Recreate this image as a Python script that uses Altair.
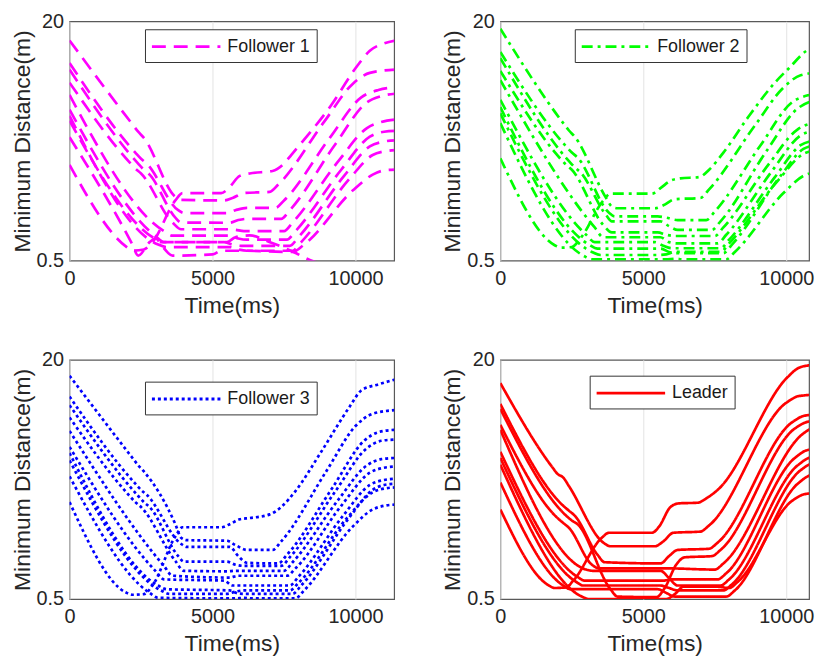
import altair as alt
import pandas as pd

PANEL_NAMES = ["Follower 1", "Follower 2", "Follower 3", "Leader"]
PANEL_COLORS = ["#ff00ff", "#00ff00", "#0000ff", "#ff0000"]
PANEL_DASHES = [[14, 8], [11, 5, 3, 5], [3, 3], [1, 0]]
X_TICKS = [0, 5000, 10000]
Y_TICKS = [0.5, 20]
X_LABEL = "Time(ms)"
Y_LABEL = "Minimum Distance(m)"

# (time in ms, minimum distance in m)
FOLLOWER1 = [
    [(0, 8.3), (2000, 1.6), (2200, 1.3), (2600, 1.4), (2900, 2.0), (3700, 5.4), (3950, 6.0), (5300, 6.0), (5600, 6.5), (5950, 7.4), (6300, 7.6), (7100, 7.8), (7500, 8.4), (7750, 9.1), (9130, 13.1), (10070, 16.4), (10500, 17.6), (11000, 18.2), (11400, 18.44)],
    [(0, 18.44), (2200, 11.6), (2400, 11.0), (2600, 10.5), (3700, 5.7), (3900, 5.45), (5400, 5.4), (5700, 5.6), (6100, 6.0), (7000, 6.1), (7300, 6.7), (8900, 11.8), (9900, 14.9), (10500, 15.8), (11400, 16.07)],
    [(0, 16.6), (2300, 9.3), (2500, 8.8), (2700, 8.4), (3800, 4.6), (4000, 4.37), (5500, 4.37), (5800, 4.6), (6200, 4.8), (7200, 4.8), (7500, 5.4), (9100, 10.5), (10200, 13.8), (10800, 14.4), (11400, 14.63)],
    [(0, 16.07), (2400, 8.4), (2600, 7.9), (2800, 7.5), (3700, 4.0), (3900, 3.6), (5600, 3.58), (5900, 3.8), (6200, 3.9), (7400, 3.9), (7700, 4.6), (9300, 10.0), (10400, 13.4), (10900, 13.9), (11400, 14.1)],
    [(0, 15.0), (2100, 8.5), (2300, 8.0), (2500, 7.6), (3600, 3.6), (3900, 3.05), (5500, 3.05), (5800, 3.0), (6100, 2.9), (7500, 2.9), (7800, 3.6), (9400, 8.6), (10400, 11.3), (10900, 11.8), (11400, 12.0)],
    [(0, 14.0), (3300, 2.9), (3600, 2.53), (5600, 2.53), (5900, 2.3), (6200, 2.2), (7600, 2.2), (7900, 2.9), (9500, 7.9), (10500, 10.6), (11000, 11.0), (11400, 11.07)],
    [(0, 12.8), (3000, 2.5), (3300, 2.0), (5400, 2.0), (5700, 1.8), (6000, 1.7), (7700, 1.7), (8000, 2.4), (9600, 7.4), (10500, 9.8), (11000, 10.2), (11400, 10.3)],
    [(0, 12.3), (3100, 1.8), (3400, 1.6), (5600, 1.6), (5900, 1.4), (6200, 1.3), (7800, 1.3), (8100, 2.0), (9800, 7.2), (10600, 9.1), (11000, 9.4), (11400, 9.5)],
    [(0, 10.55), (2200, 1.8), (2400, 0.9), (2800, 2.0), (3000, 2.3), (3300, 1.5), (3600, 0.9), (5000, 1.0), (5300, 1.3), (6000, 1.3), (7800, 1.2), (8200, 1.8), (9900, 6.2), (10600, 7.5), (11000, 7.85), (11400, 7.92)],
    [(0, 11.9), (2900, 2.4), (3200, 2.0), (5500, 2.0), (5800, 2.4), (6300, 2.55), (7000, 2.0), (7600, 1.45), (8000, 1.0), (8400, 0.55), (8700, 0.3)],
]

FOLLOWER2 = [
    [(0, 8.84), (1900, 1.75), (2100, 1.55), (2500, 1.6), (2800, 2.3), (3600, 5.4), (3850, 5.95), (5300, 5.95), (5600, 6.4), (5950, 7.0), (6300, 7.2), (6950, 7.3), (7300, 7.9), (7800, 9.3), (8700, 12.3), (9600, 15.0), (10100, 16.2), (10700, 17.6), (11400, 18.3)],
    [(0, 19.4), (2200, 11.7), (2400, 11.1), (2600, 10.6), (3700, 5.6), (3900, 4.9), (4100, 4.76), (5400, 4.76), (5700, 5.0), (6100, 5.5), (7000, 5.6), (7300, 6.3), (8900, 11.5), (9900, 14.6), (10500, 15.6), (11400, 15.9)],
    [(0, 17.5), (2300, 9.8), (2500, 9.3), (2700, 8.9), (3800, 4.4), (4000, 4.1), (5500, 4.1), (5800, 4.0), (6200, 3.8), (7200, 3.8), (7500, 4.5), (9100, 9.9), (10200, 13.4), (10800, 14.0), (11400, 14.2)],
    [(0, 17.0), (2400, 8.6), (2600, 8.1), (2800, 7.7), (3700, 4.2), (3900, 3.7), (5600, 3.7), (5900, 3.3), (6200, 3.0), (7400, 3.0), (7700, 3.7), (9300, 9.4), (10400, 12.9), (10900, 13.5), (11400, 13.7)],
    [(0, 15.96), (2100, 8.8), (2300, 8.3), (2500, 7.9), (3600, 3.4), (3900, 2.8), (5500, 2.79), (5800, 2.6), (6100, 2.5), (7500, 2.5), (7800, 3.2), (9400, 8.4), (10400, 11.2), (10900, 11.7), (11400, 11.86)],
    [(0, 15.2), (3300, 3.2), (3600, 2.4), (5600, 2.4), (5900, 2.0), (6200, 1.9), (7600, 1.9), (7900, 2.6), (9500, 7.8), (10500, 10.7), (11000, 11.1), (11400, 11.2)],
    [(0, 13.6), (3000, 2.6), (3300, 2.0), (5400, 2.0), (5700, 1.7), (6000, 1.5), (7700, 1.5), (8000, 2.2), (9600, 7.3), (10500, 9.9), (11000, 10.3), (11400, 10.4)],
    [(0, 13.0), (3100, 1.8), (3400, 1.47), (5600, 1.47), (5900, 1.2), (6200, 1.1), (7800, 1.1), (8100, 1.8), (9800, 7.4), (10600, 9.6), (11000, 9.9), (11400, 10.0)],
    [(0, 12.5), (3200, 1.2), (3500, 0.95), (5500, 0.95), (5800, 1.0), (6100, 1.2), (7700, 1.2), (8000, 1.9), (9700, 7.0), (10600, 9.2), (11000, 9.5), (11400, 9.6)],
    [(0, 11.7), (2900, 0.9), (3200, 0.6), (5800, 0.6), (6100, 0.65), (6400, 0.6), (7900, 0.6), (8200, 1.2), (9900, 6.0), (10600, 7.4), (11000, 7.7), (11400, 7.8)],
]

FOLLOWER3 = [
    [(0, 8.4), (2000, 1.0), (2200, 0.85), (2600, 0.9), (2900, 1.6), (3700, 5.6), (3950, 6.35), (5300, 6.35), (5600, 6.6), (5950, 7.0), (6300, 7.1), (7000, 7.4), (7400, 8.0), (7900, 9.3), (8800, 12.5), (9800, 16.2), (10200, 17.5), (10800, 18.0), (11400, 18.4)],
    [(0, 18.7), (2200, 12.0), (2400, 11.4), (2600, 10.9), (3700, 6.6), (3900, 5.5), (4100, 5.3), (5500, 5.25), (5800, 4.9), (6200, 4.5), (7100, 4.5), (7400, 5.2), (9000, 11.0), (10000, 14.6), (10600, 15.6), (11400, 15.9)],
    [(0, 17.0), (2300, 9.9), (2500, 9.4), (2700, 9.0), (3900, 5.0), (4100, 4.75), (5600, 4.75), (5900, 4.0), (6200, 3.45), (7300, 3.4), (7600, 4.1), (9200, 9.6), (10300, 13.4), (10800, 14.1), (11400, 14.3)],
    [(0, 16.3), (2400, 8.9), (2600, 8.4), (2800, 8.0), (3800, 4.0), (4000, 3.55), (5500, 3.55), (5800, 3.3), (6100, 3.2), (7400, 3.2), (7700, 3.9), (9300, 9.3), (10400, 12.8), (10900, 13.4), (11400, 13.5)],
    [(0, 15.3), (2100, 8.9), (2300, 8.4), (2500, 8.0), (3700, 3.6), (4000, 2.8), (5500, 2.76), (5800, 2.8), (6100, 2.8), (7500, 2.8), (7800, 3.5), (9400, 8.6), (10400, 11.4), (10900, 11.9), (11400, 12.0)],
    [(0, 14.2), (3300, 3.2), (3600, 2.4), (5600, 2.25), (5900, 2.4), (6200, 2.4), (7600, 2.4), (7900, 3.0), (9500, 8.1), (10500, 10.8), (11000, 11.2), (11400, 11.3)],
    [(0, 12.9), (3000, 2.8), (3300, 2.1), (5400, 2.0), (5700, 1.6), (6000, 1.6), (7700, 1.6), (8000, 2.3), (9600, 7.4), (10500, 9.8), (11000, 10.2), (11400, 10.3)],
    [(0, 12.4), (3100, 1.6), (3400, 1.3), (5600, 1.2), (5900, 0.95), (6200, 0.92), (7800, 0.92), (8100, 1.6), (9800, 7.2), (10600, 9.4), (11000, 9.8), (11400, 9.9)],
    [(0, 11.8), (3200, 1.2), (3500, 0.92), (5500, 0.92), (5800, 1.1), (6100, 1.2), (7700, 1.2), (8000, 1.8), (9700, 7.1), (10600, 9.2), (11000, 9.5), (11400, 9.6)],
    [(0, 10.5), (2800, 1.0), (3100, 0.6), (5800, 0.55), (6100, 0.6), (6400, 0.55), (7900, 0.55), (8200, 1.2), (9900, 6.4), (10600, 7.8), (11000, 8.1), (11400, 8.2)],
]

LEADER = [
    [(0, 7.8), (1700, 1.6), (1900, 1.4), (2300, 1.45), (2550, 2.0), (3550, 5.5), (3800, 5.9), (5300, 5.9), (5550, 6.4), (5950, 8.0), (6250, 8.3), (6900, 8.35), (7200, 8.7), (7600, 9.4), (10050, 18.6), (10400, 19.3), (10800, 19.55), (11400, 19.65)],
    [(0, 18.1), (1800, 11.3), (2000, 10.7), (2200, 10.4), (2400, 9.7), (3600, 5.1), (3850, 4.8), (5400, 4.8), (5700, 5.2), (6050, 5.9), (7000, 6.0), (7300, 6.5), (10000, 16.5), (10450, 17.05), (11400, 17.2)],
    [(0, 16.4), (2200, 8.1), (2400, 7.7), (2600, 7.3), (3400, 4.1), (3650, 3.5), (5600, 3.4), (5900, 4.0), (6200, 4.5), (7300, 4.6), (7600, 5.1), (10200, 14.9), (10650, 15.45), (11400, 15.6)],
    [(0, 16.0), (2300, 7.3), (2500, 6.9), (2700, 6.6), (3850, 1.3), (4100, 0.7), (5450, 0.65), (5750, 1.4), (6150, 3.3), (6450, 3.9), (7400, 4.0), (7700, 4.5), (10300, 14.4), (10750, 14.95), (11400, 15.1)],
    [(0, 14.7), (2000, 7.1), (2200, 6.7), (2400, 6.3), (3200, 3.3), (3450, 3.0), (5500, 3.0), (5800, 3.0), (7500, 2.9), (7800, 3.4), (10600, 14.0), (11000, 14.55), (11400, 14.7)],
    [(0, 14.3), (3000, 2.9), (3250, 2.8), (5600, 2.8), (5900, 2.2), (6200, 1.6), (7700, 1.6), (8000, 2.1), (10400, 11.4), (10850, 12.05), (11400, 12.2)],
    [(0, 12.5), (2700, 2.3), (2950, 2.0), (5700, 2.0), (6000, 2.1), (7600, 2.1), (7900, 2.6), (10300, 12.0), (10750, 12.65), (11400, 12.8)],
    [(0, 12.0), (2650, 1.9), (2900, 1.6), (5600, 1.6), (5900, 1.4), (6200, 1.2), (7800, 1.2), (8100, 1.7), (10500, 11.0), (10900, 11.55), (11400, 11.7)],
    [(0, 10.0), (2200, 1.6), (2450, 1.3), (5500, 1.3), (5800, 1.0), (6100, 0.7), (7900, 0.7), (8200, 1.2), (10400, 9.9), (10850, 10.6), (11400, 10.8)],
    [(0, 11.45), (2850, 0.7), (3100, 0.5), (5800, 0.5), (6100, 0.9), (6400, 1.5), (7600, 1.5), (8000, 1.4), (8300, 1.9), (10200, 8.5), (10650, 9.05), (11400, 9.2)],
]

PANEL_CURVES = [FOLLOWER1, FOLLOWER2, FOLLOWER3, LEADER]

FONT = "Liberation Sans"
TEXT = "#262626"


def to_frame(name, curves):
    rows = []
    for i, curve in enumerate(curves):
        for t, v in curve:
            rows.append({"agent": name, "curve": i, "t": t, "v": v})
    return pd.DataFrame(rows)


def panel(idx, width, xmax, legend_x, legend_y):
    name = PANEL_NAMES[idx]
    color = PANEL_COLORS[idx]
    dash = PANEL_DASHES[idx]
    legend = alt.Legend(
        title=None, orient="none", legendX=legend_x, legendY=legend_y,
        symbolType="M-3.45,0H3.45", symbolSize=400, symbolStrokeWidth=2.8,
        symbolOffset=24, symbolDash=dash, labelFontSize=18, labelFont=FONT,
        labelColor="#1a1a1a", labelOffset=30, fillColor="white",
        strokeColor="#333333", padding=6, symbolOpacity=1,
    )
    return alt.Chart(to_frame(name, PANEL_CURVES[idx])).mark_line(
        strokeWidth=2.7, strokeDash=dash, interpolate="monotone", clip=True
    ).encode(
        x=alt.X("t:Q", title=X_LABEL,
                scale=alt.Scale(domain=[0, xmax], nice=False, zero=False),
                axis=alt.Axis(values=X_TICKS, format="d", labelFlush=False, grid=True)),
        y=alt.Y("v:Q", title=Y_LABEL,
                scale=alt.Scale(domain=[0.5, 20], nice=False, zero=False),
                axis=alt.Axis(values=Y_TICKS, format=".1~f", grid=False,
                              labelFlush=True, labelFlushOffset=10)),
        color=alt.Color("agent:N", scale=alt.Scale(domain=[name], range=[color]), legend=legend),
        detail="curve:N",
    ).properties(width=width, height=241)


top = alt.hconcat(
    panel(0, 327, 11350, 76, 8), panel(1, 311, 10795, 75, 8), spacing=46
).resolve_scale(color="independent", x="independent", y="independent").resolve_legend(color="independent")
bottom = alt.hconcat(
    panel(2, 327, 11350, 76, 22), panel(3, 311, 10795, 90, 16), spacing=46
).resolve_scale(color="independent", x="independent", y="independent").resolve_legend(color="independent")

chart = alt.vconcat(top, bottom, spacing=31).resolve_scale(
    color="independent", x="independent", y="independent"
).resolve_legend(color="independent").properties(
    padding={"left": 2, "top": 0, "right": 0, "bottom": 0}, background="white"
).configure_view(
    stroke="#595959", strokeWidth=1.2
).configure_axis(
    labelFont=FONT, titleFont=FONT, labelFontSize=20, titleFontSize=23,
    labelColor=TEXT, titleColor=TEXT, titleFontWeight="normal",
    ticks=False, domain=False, gridColor="#e3e3e3", gridWidth=1,
).configure_axisX(labelPadding=8, titlePadding=6).configure_axisY(labelPadding=6, titlePadding=2)

chart.save("out.html", embed_options={"renderer": "svg", "actions": False})
